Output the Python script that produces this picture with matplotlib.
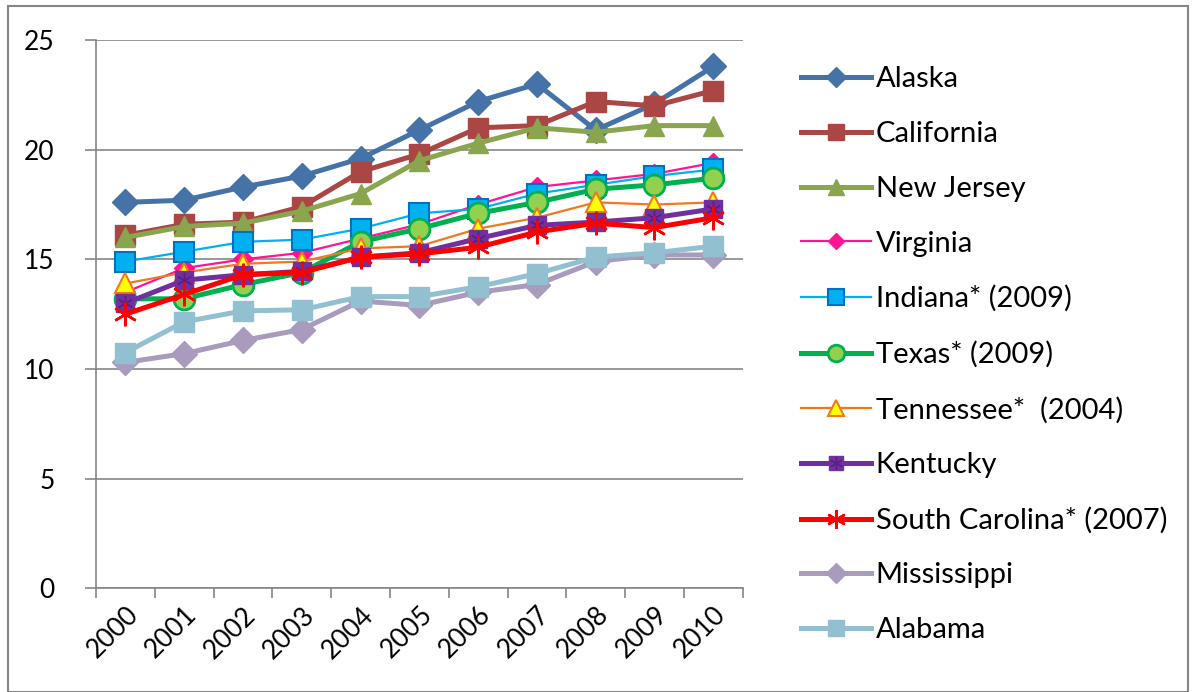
import numpy as np
import matplotlib
matplotlib.use('Agg')
import matplotlib.pyplot as plt
from matplotlib.patches import Rectangle

plt.rcParams['font.family'] = ['Lato', 'DejaVu Sans']

years = ['2000', '2001', '2002', '2003', '2004', '2005',
         '2006', '2007', '2008', '2009', '2010']

alaska = [17.6, 17.7, 18.3, 18.8, 19.6, 20.9, 22.2, 23.0, 20.9, 22.1, 23.8]
california = [16.1, 16.6, 16.7, 17.4, 19.0, 19.8, 21.0, 21.1, 22.2, 22.0, 22.7]
new_jersey = [16.0, 16.5, 16.65, 17.2, 18.0, 19.5, 20.3, 21.0, 20.8, 21.1, 21.1]
virginia = [13.5, 14.6, 15.0, 15.3, 15.95, 16.6, 17.5, 18.3, 18.6, 18.9, 19.4]
indiana = [14.9, 15.35, 15.8, 15.9, 16.4, 17.1, 17.3, 18.0, 18.4, 18.8, 19.1]
texas = [13.2, 13.2, 13.85, 14.4, 15.8, 16.4, 17.1, 17.6, 18.2, 18.4, 18.7]
tennessee = [13.9, 14.4, 14.8, 14.9, 15.5, 15.6, 16.4, 16.9, 17.6, 17.5, 17.6]
kentucky = [13.0, 14.05, 14.3, 14.45, 15.1, 15.3, 15.95, 16.55, 16.7, 16.9, 17.3]
south_carolina = [12.5, 13.4, 14.3, 14.4, 15.1, 15.25, 15.55, 16.25, 16.65, 16.45, 16.9]
mississippi = [10.3, 10.7, 11.3, 11.8, 13.1, 12.9, 13.5, 13.85, 14.9, 15.2, 15.2]
alabama = [10.75, 12.15, 12.65, 12.7, 13.3, 13.3, 13.75, 14.35, 15.1, 15.3, 15.6]

x = np.arange(len(years))

fig = plt.figure(figsize=(11.94, 6.92), dpi=100)
ax = fig.add_axes([0.0804, 0.150, 0.5416, 0.792])

grey = '#868686'

ax.plot(x, alaska, color='#4572A7', lw=3.6, marker='D', ms=13,
        mfc='#4572A7', mec='#4572A7', label='Alaska')
ax.plot(x, california, color='#AA4643', lw=3.6, marker='s', ms=14,
        mfc='#AA4643', mec='#AA4643', label='California')
ax.plot(x, new_jersey, color='#89A54E', lw=3.6, marker='^', ms=15,
        mfc='#89A54E', mec='#89A54E', label='New Jersey')
ax.plot(x, virginia, color='#FF1493', lw=1.6, marker='D', ms=10,
        mfc='#FF1493', mec='#FF1493', label='Virginia')
ax.plot(x, indiana, color='#00B0F0', lw=1.6, marker='s', ms=14,
        mfc='#00B0F0', mec='#0070C0', mew=1.5, label='Indiana* (2009)')
ax.plot(x, texas, color='#00B050', lw=3.6, marker='o', ms=15,
        mfc='#92D050', mec='#00B050', mew=2, label='Texas* (2009)')
ax.plot(x, tennessee, color='#F07820', lw=1.6, marker='^', ms=14,
        mfc='#FFFF00', mec='#F07820', mew=1.5, label='Tennessee*  (2004)')
ky_line, = ax.plot(x, kentucky, color='#7030A0', lw=3.6, marker='s', ms=13,
                   mfc='#7030A0', mec='#7030A0')
ky_star, = ax.plot(x, kentucky, ls='none', marker=(6, 2, 0), ms=11,
                   mec='#5A1F85', mew=1)
ax.plot(x, south_carolina, color='#FF0000', lw=3.6, marker=(6, 2, 0), ms=17,
        mec='#FF0000', mew=1.8, label='South Carolina* (2007)')
ax.plot(x, mississippi, color='#A99BBD', lw=3.6, marker='D', ms=13,
        mfc='#A99BBD', mec='#A99BBD', label='Mississippi')
ax.plot(x, alabama, color='#93C0D0', lw=3.6, marker='s', ms=15,
        mfc='#93C0D0', mec='#93C0D0', label='Alabama')

ax.set_xlim(-0.5, len(years) - 0.5)
ax.set_ylim(0, 25)
ax.set_yticks([0, 5, 10, 15, 20, 25])
ax.yaxis.grid(True, color=grey, lw=1.2)
ax.set_axisbelow(True)

ax.set_xticks(x)
ax.set_xticklabels(years, rotation=45, ha='right', va='top',
                   rotation_mode='anchor', fontsize=19)
ax.set_xticks(np.arange(len(years) + 1) - 0.5, minor=True)
ax.tick_params(axis='x', which='major', length=0, pad=10)
ax.tick_params(axis='x', which='minor', length=7, color=grey, width=1.2)
ax.tick_params(axis='y', length=8, color=grey, width=1.2, labelsize=19, pad=22)

for s in ['top', 'right']:
    ax.spines[s].set_visible(False)
for s in ['left', 'bottom']:
    ax.spines[s].set_color(grey)
    ax.spines[s].set_linewidth(1.2)

handles, labels = ax.get_legend_handles_labels()
handles.insert(7, (ky_line, ky_star))
labels.insert(7, 'Kentucky')
ax.legend(handles, labels, loc='upper left', bbox_to_anchor=(1.05, 1.0),
          frameon=False, fontsize=21, handlelength=2.4, labelspacing=0.985,
          handletextpad=0.15, markerscale=0.8)

fig.patches.append(Rectangle((8 / 1194, 0), 1180 / 1194, 686 / 692,
                             transform=fig.transFigure, fill=False,
                             edgecolor=grey, lw=1.5))

fig.savefig('out.png', dpi=100)
